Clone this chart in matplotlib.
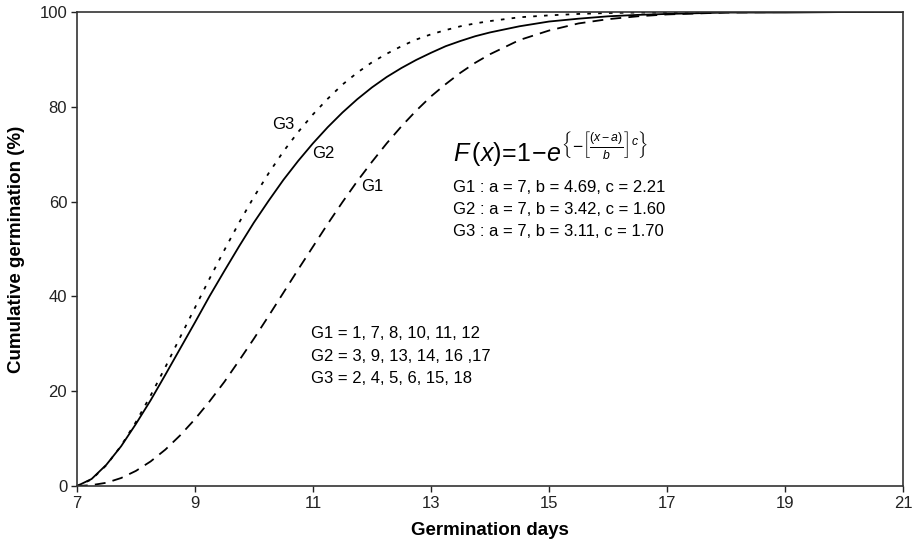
import matplotlib
matplotlib.use("Agg")
import matplotlib.pyplot as plt

plt.rcParams['font.family'] = ['Liberation Sans', 'DejaVu Sans']
plt.rcParams['mathtext.fontset'] = 'custom'
plt.rcParams['mathtext.rm'] = 'Liberation Sans'
plt.rcParams['mathtext.it'] = 'Liberation Sans:italic'

# germination day (x axis) and cumulative germination %
days = [7, 7.25, 7.5, 7.75, 8, 8.25, 8.5, 8.75, 9,
        9.25, 9.5, 9.75, 10, 10.25, 10.5, 10.75, 11, 11.25, 11.5, 11.75,
        12, 12.25, 12.5, 12.75, 13, 13.25, 13.5, 13.75, 14,
        14.5, 15, 15.5, 16, 16.5, 17, 18, 19, 20, 21]
g1 = [0, 0.2, 0.7, 1.7, 3.2, 5.2, 7.7, 10.7, 14.1,
      17.9, 22.0, 26.5, 31.1, 35.9, 40.8, 45.7, 50.5, 55.3, 59.9, 64.3,
      68.4, 72.3, 75.9, 79.2, 82.2, 84.8, 87.2, 89.3, 91.1,
      94.1, 96.1, 97.6, 98.5, 99.1, 99.5, 99.9, 100, 100, 100]
g2 = [0, 1.5, 4.5, 8.4, 13.1, 18.1, 23.5, 29.0, 34.5,
      40.1, 45.4, 50.6, 55.6, 60.2, 64.6, 68.6, 72.3, 75.7, 78.8, 81.6,
      84.1, 86.3, 88.2, 89.9, 91.4, 92.8, 93.9, 94.9, 95.7,
      97.0, 98.0, 98.6, 99.1, 99.4, 99.6, 99.9, 99.9, 100, 100]
g3 = [0, 1.4, 4.4, 8.5, 13.5, 19.1, 25.1, 31.4, 37.6,
      43.8, 49.8, 55.6, 61.0, 66.0, 70.6, 74.7, 78.4, 81.7, 84.7, 87.2,
      89.4, 91.2, 92.8, 94.2, 95.3, 96.2, 97.0, 97.6, 98.1,
      98.9, 99.3, 99.6, 99.8, 99.9, 99.9, 100, 100, 100, 100]

params = ["G1 : a = 7, b = 4.69, c = 2.21",
          "G2 : a = 7, b = 3.42, c = 1.60",
          "G3 : a = 7, b = 3.11, c = 1.70"]
groups = ["G1 = 1, 7, 8, 10, 11, 12",
          "G2 = 3, 9, 13, 14, 16 ,17",
          "G3 = 2, 4, 5, 6, 15, 18"]

fig = plt.figure(figsize=(9.15, 5.48), dpi=100)
ax = fig.add_axes([0.084, 0.113, 0.903, 0.865])

ax.plot(days, g1, color='black', lw=1.3, linestyle=(0, (6, 4)))
ax.plot(days, g2, color='black', lw=1.3, linestyle='-')
ax.plot(days, g3, color='black', lw=1.3, linestyle=(0, (2, 4)))

ax.set_xlim(7, 21)
ax.set_ylim(0, 100)
ax.set_xticks(range(7, 22, 2))
ax.set_yticks(range(0, 101, 20))
ax.tick_params(direction='out', length=4, width=1, labelsize=12, pad=3, colors='#222222')
for s in ax.spines.values():
    s.set_linewidth(1.2)
    s.set_color('#333333')

ax.set_xlabel("Germination days", fontsize=13.5, fontweight='bold', labelpad=8)
ax.set_ylabel("Cumulative germination (%)", fontsize=13.5, fontweight='bold', labelpad=10)

# curve labels
ax.text(10.49, 76.3, "G3", fontsize=12, ha='center', va='center')
ax.text(11.17, 70.2, "G2", fontsize=12, ha='center', va='center')
ax.text(12.0, 63.2, "G1", fontsize=12, ha='center', va='center')

# formula
ax.text(13.37, 68.3,
        r'$F\,(x)\!=\!1\!-\!e^{\left\{-\left[\frac{(x-a)}{b}\right]^{c}\right\}}$',
        fontsize=18, ha='left', va='baseline')

for i, t in enumerate(params):
    ax.text(13.37, 63.0 - 4.65 * i, t, fontsize=12, ha='left', va='center')
for i, t in enumerate(groups):
    ax.text(10.97, 32.1 - 4.75 * i, t, fontsize=12, ha='left', va='center')

fig.savefig("out.png", dpi=100)
